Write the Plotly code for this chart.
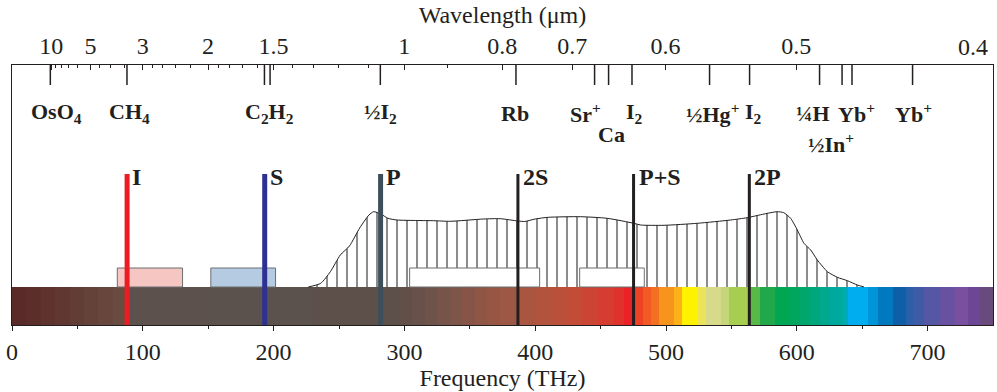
import plotly.graph_objects as go

C_LIGHT = 299.792458  # THz * um

# ---------------- data ----------------
# spectrum colour bar (bin edges in THz, one colour per bin)
spec_edges = [0, 11, 22, 33, 44, 55, 66, 77, 88, 150, 230, 297, 306, 316, 325, 335,
              344, 354, 363, 373, 387, 400, 412, 424, 436, 448, 460, 468, 475, 482.7,
              488.8, 494.9, 506.3, 512.5, 524.7, 530.8, 542.3, 548.4, 563, 572, 583.6,
              595, 602.7, 610, 618, 625.6, 635.5, 639.4, 654.7, 662.3, 673.8, 683.7,
              689, 697.5, 709.7, 721.2, 731.1, 740.3, 750]
spec_colors = ["#5a2a29", "#5c2e2b", "#5e332e", "#603831", "#623d35", "#644239", "#67463d",
               "#6a4b42", "#5c514d", "#5c524d", "#5d504a", "#614f48", "#67514a", "#6e534b",
               "#76544a", "#7e5549", "#875547", "#8f5645", "#975643", "#9d5845", "#aa553f",
               "#b2533d", "#ba503a", "#c34c37", "#cc4534", "#d63c30", "#e0312b", "#ea2227",
               "#ef4123", "#f15a24", "#f36f22", "#f7941d", "#fbb117", "#fff200", "#ece35a",
               "#d8da8b", "#c3d67a", "#a7ce50", "#58b947", "#1fa94b", "#00a651", "#00a65e",
               "#00a66c", "#00a77c", "#00a88d", "#00a99e", "#00abb6", "#00aeef", "#0095d8",
               "#0079c1", "#0e5ea8", "#2b5fa9", "#3f5ba7", "#5556a4", "#6951a2", "#7a4f9f",
               "#6e4696", "#694a7c"]
assert len(spec_colors) == len(spec_edges) - 1

# hatched envelope (frequency THz, relative level)
env_freq = [226.5, 236, 243.4, 251, 258, 265.8, 272.9, 276.5, 282, 287.4, 294.3, 310,
            322.3, 335, 360.5, 373.3, 386.8, 392, 400, 410, 434.7, 455, 475.5, 480.6,
            498.5, 524, 549.4, 562, 575, 585, 590, 595.3, 600.4, 605.5, 610.6, 615.7,
            623.4, 631, 638.7, 646.3, 651.4]
env_level = [38, 41.7, 53.3, 70, 79, 97, 110, 113.3, 111, 106.7, 105, 104.5,
             104.3, 103.7, 106, 106.3, 104, 103.5, 106, 107.7, 108.3, 106.7, 101.7, 100,
             99.7, 101.7, 105, 107.3, 111, 113.3, 112.3, 106.7, 95, 81.7, 75, 65,
             53.3, 47.7, 44.3, 40, 38]

# boxes (start THz, end THz, fill colour)
box_start = [80.5, 152.0, 304.0, 434.0]
box_end = [130.4, 201.5, 403.4, 483.4]
box_fill = ["#f5c6c2", "#b4cbe2", "#ffffff", "#ffffff"]

# laser lines
line_labels = ["I", "S", "P", "2S", "P+S", "2P"]
line_freqs = [88.0, 193.2, 281.8, 386.8, 475.2, 563.7]
line_colors = ["#ed1c24", "#2e3192", "#3d4f5b", "#231f20", "#231f20", "#231f20"]
line_widths = [5, 5, 5, 3, 3, 3]

# reference standards (tick frequency THz, label)
std_freqs = [29.3, 87.9, 193.0, 197.3, 281.6, 385.3, 445.4, 456.1, 474.0, 533.3,
             563.9, 617.4, 634.6, 642.2, 688.5]
std_labels = ["OsO<sub>4</sub>", "CH<sub>4</sub>", "C<sub>2</sub>H<sub>2</sub>", "",
              "½I<sub>2</sub>", "Rb", "Sr<sup>+</sup>", "Ca", "I<sub>2</sub>",
              "½Hg<sup>+</sup>", "I<sub>2</sub>", "¼H", "½In<sup>+</sup>",
              "Yb<sup>+</sup>", "Yb<sup>+</sup>"]

# wavelength axis
wl_major = [10, 5, 3, 2, 1.5, 1, 0.8, 0.7, 0.6, 0.5, 0.4]
wl_major_text = ["10", "5", "3", "2", "1.5", "1", "0.8", "0.7", "0.6", "0.5", "0.4"]
wl_minor = [9, 8, 7, 6, 4.5, 4, 3.5, 2.8, 2.6, 2.4, 2.2, 1.9, 1.8, 1.7, 1.6,
            1.4, 1.3, 1.2, 1.1, 0.9]

freq_ticks = [0, 100, 200, 300, 400, 500, 600, 700]
freq_minor = [50, 150, 250, 350, 450, 550, 650]

# ---------------- style ----------------
SERIF = "Liberation Serif, Times New Roman, serif"
INK = "#231f20"
BAR_H = 38
BOX_TOP = 57
LINE_TOP = 151
TICK_TOP, TICK_BOT = 260, 240

# label layout: x pixel shift and row y
std_xshift = [6, 3, 5, 0, 0, -1, -9, 3, 3, 3, 4, -7, -11, 4, 1]
std_y = [212, 212, 212, 212, 212, 212, 212, 191, 212, 212, 212, 212, 182, 212, 212]

fig = go.Figure()

# spectrum bar
centers = [(a + b) / 2 for a, b in zip(spec_edges[:-1], spec_edges[1:])]
widths = [b - a for a, b in zip(spec_edges[:-1], spec_edges[1:])]
fig.add_trace(go.Bar(x=centers, y=[BAR_H] * len(centers), width=widths, base=0,
                     marker=dict(color=spec_colors, line=dict(width=0)),
                     hoverinfo="skip"))

# hatched envelope
fig.add_trace(go.Scatter(x=env_freq, y=env_level, mode="lines",
                         line=dict(color=INK, width=1, shape="spline", smoothing=0.6),
                         fill="toself", fillcolor="white",
                         fillpattern=dict(shape="|", size=10, solidity=0.18,
                                          fgcolor="#000000", bgcolor="white"),
                         hoverinfo="skip"))

# boxes
for a, b, col in zip(box_start, box_end, box_fill):
    fig.add_trace(go.Scatter(x=[a, a, b, b, a], y=[BAR_H, BOX_TOP, BOX_TOP, BAR_H, BAR_H],
                             mode="lines", fill="toself", fillcolor=col,
                             line=dict(color="#6d6e71", width=1), hoverinfo="skip"))

# laser lines
for f, col, w in zip(line_freqs, line_colors, line_widths):
    fig.add_trace(go.Scatter(x=[f, f], y=[0, LINE_TOP], mode="lines",
                             line=dict(color=col, width=w), hoverinfo="skip"))

# standards ticks on wavelength axis
sx, sy = [], []
for f in std_freqs:
    sx += [f, f, None]
    sy += [TICK_TOP, TICK_BOT, None]
fig.add_trace(go.Scatter(x=sx, y=sy, mode="lines", xaxis="x2", yaxis="y",
                         line=dict(color=INK, width=1.5), hoverinfo="skip"))

annotations = []
for f, lab, dx, yy in zip(std_freqs, std_labels, std_xshift, std_y):
    if not lab:
        continue
    annotations.append(dict(x=f, y=yy, xref="x", yref="y", text="<b>" + lab + "</b>",
                            showarrow=False, xshift=dx, xanchor="center", yanchor="middle",
                            font=dict(family=SERIF, size=22, color=INK)))
for f, lab in zip(line_freqs, line_labels):
    annotations.append(dict(x=f, y=LINE_TOP - 3, xref="x", yref="y", text="<b>" + lab + "</b>",
                            showarrow=False, xshift=3, xanchor="left", yanchor="middle",
                            font=dict(family=SERIF, size=24, color=INK)))

wl_pos = [C_LIGHT / w for w in wl_major]
wl_text = wl_major_text[:-1] + [""]
annotations.append(dict(x=wl_pos[-1], y=1, xref="x", yref="paper", yanchor="bottom",
                        xanchor="right", text=wl_major_text[-1], showarrow=False,
                        xshift=-2, yshift=3, font=dict(family=SERIF, size=24, color=INK)))

fig.update_layout(
    width=997, height=392,
    margin=dict(l=12, r=4, t=65, b=67),
    plot_bgcolor="white", paper_bgcolor="white",
    showlegend=False, bargap=0,
    annotations=annotations,
    xaxis=dict(range=[0, 750], tickvals=freq_ticks, ticks="outside", ticklen=5,
               tickwidth=1.2, tickcolor=INK, showline=True, linecolor=INK, linewidth=1.3,
               mirror=True, showgrid=False, zeroline=False,
               minor=dict(tickvals=freq_minor, ticks="outside", ticklen=3, tickcolor=INK,
                          tickwidth=1, showgrid=False),
               tickfont=dict(family=SERIF, size=24, color=INK),
               title=dict(text="Frequency (THz)", font=dict(family=SERIF, size=24, color=INK),
                          standoff=0)),
    xaxis2=dict(range=[0, 750], overlaying="x", side="top", tickvals=wl_pos, ticktext=wl_text,
                ticks="inside", ticklen=5, tickwidth=1.2, tickcolor=INK, showline=True,
                linecolor=INK, linewidth=1.3, showgrid=False, zeroline=False,
                minor=dict(tickvals=[C_LIGHT / w for w in wl_minor], ticks="inside",
                           ticklen=3, tickcolor=INK, tickwidth=1, showgrid=False),
                tickfont=dict(family=SERIF, size=24, color=INK),
                title=dict(text="Wavelength (μm)", font=dict(family=SERIF, size=24, color=INK),
                           standoff=2)),
    yaxis=dict(range=[0, 260], showline=True, linecolor=INK, linewidth=1.3, mirror=True,
               showticklabels=False, ticks="", showgrid=False, zeroline=False),
)

fig.write_html("out.html")
